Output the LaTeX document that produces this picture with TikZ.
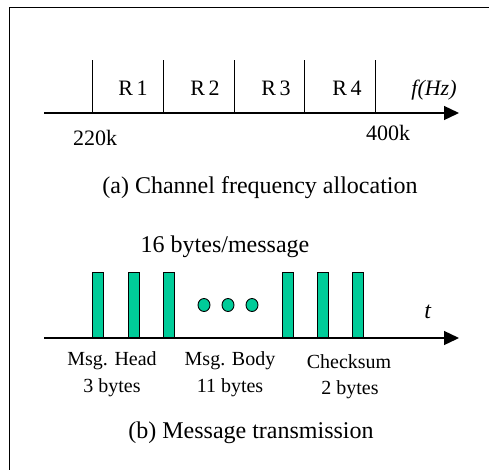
\documentclass[tikz,border=0pt]{standalone}
\usepackage{fontspec}
\setmainfont{Liberation Serif}
\usetikzlibrary{arrows.meta}
\definecolor{barcol}{RGB}{0,204,153}
\tikzset{
  big/.style={font=\fontsize{24}{28}\selectfont, inner sep=0pt, anchor=base},
  mid/.style={font=\fontsize{22}{26}\selectfont, inner sep=0pt, anchor=base},
  small/.style={font=\fontsize{20}{24}\selectfont, inner sep=0pt, anchor=base},
  axis/.style={line width=1.3pt, -{Triangle[length=15pt,width=14pt]}},
  tick/.style={line width=0.9pt},
  bar/.style={draw=black, line width=0.9pt, fill=barcol, minimum width=11pt, minimum height=65pt, inner sep=0pt, anchor=south},
  dot/.style={draw=black, line width=0.9pt, fill=barcol, ellipse, minimum width=12pt, minimum height=13pt, inner sep=0pt},
  frame/.style={line width=1pt}
}
\usetikzlibrary{shapes.geometric}
\begin{document}
\begin{tikzpicture}[x=1pt,y=-1pt]
\useasboundingbox (0,0) rectangle (489,469);
% frame
\draw[frame] (9.5,470) -- (9.5,7.5) -- (490,7.5);
% (a) axis
\coordinate (a0) at (44,113);
\coordinate (a1) at (459,113);
\draw[axis] (a0) -- (a1);
\foreach \x/\n in {92/t1,163/t2,234/t3,304/t4,375/t5}{
  \coordinate (\n top) at (\x,60);
  \coordinate (\n bot) at (\x,113);
  \draw[tick] (\n top) -- (\n bot);
}
\node[mid] (r1) at (133,95) {R\,1};
\node[mid] (r2) at (205,95) {R\,2};
\node[mid] (r3) at (276,95) {R\,3};
\node[mid] (r4) at (347,95) {R\,4};
\node[mid] (fhz) at (434,95) {\textit{f(Hz)}};
\node[mid] (k220) at (95,145) {220k};
\node[mid] (k400) at (388,140) {400k};
\node[big] (capa) at (260,193) {(a) Channel frequency allocation};
% (b)
\node[big] (msg16) at (225,252) {16 bytes/message};
\coordinate (b0) at (44,338);
\coordinate (b1) at (459,338);
\draw[axis] (b0) -- (b1);
\node[bar] (bar1) at (98,338) {};
\node[bar] (bar2) at (133.5,338) {};
\node[bar] (bar3) at (168.5,338) {};
\node[bar] (bar4) at (287.5,338) {};
\node[bar] (bar5) at (322.5,338) {};
\node[bar] (bar6) at (358,338) {};
\node[dot] (dot1) at (204,305) {};
\node[dot] (dot2) at (228,305) {};
\node[dot] (dot3) at (252,305) {};
\node[big] (tlab) at (428,318) {\textit{t}};
\node[small] (head) at (112,365) {Msg. Head};
\node[small] (headb) at (112,392) {3 bytes};
\node[small] (body) at (230,365) {Msg. Body};
\node[small] (bodyb) at (230,392) {11 bytes};
\node[small] (chk) at (349,368) {Checksum};
\node[small] (chkb) at (350,394) {2 bytes};
\node[big] (capb) at (251,438) {(b) Message transmission};
\end{tikzpicture}
\end{document}
